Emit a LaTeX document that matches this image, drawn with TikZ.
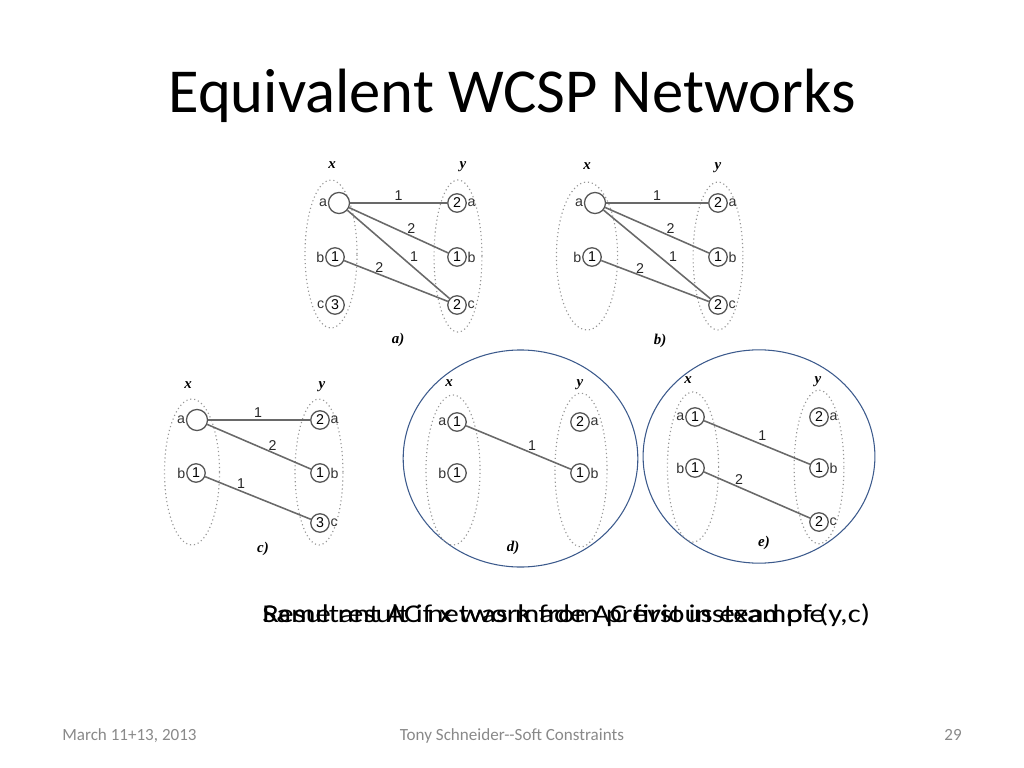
\documentclass[tikz,border=0pt]{standalone}
\usepackage{fontspec}
\setmainfont{Carlito}
\newfontfamily\hv{Liberation Sans}
\newfontfamily\tms{Liberation Serif}
\newfontface\capfont[FakeStretch=1.2]{Carlito}
\usetikzlibrary{shapes.geometric}
\definecolor{cgray}{RGB}{85,85,85}
\definecolor{egray}{RGB}{105,105,105}
\definecolor{dgray}{RGB}{150,150,150}
\definecolor{fgray}{RGB}{137,137,137}
\definecolor{navy}{RGB}{60,90,140}
\tikzset{
  val/.style={circle, draw=cgray, line width=0.9pt, minimum size=13pt, inner sep=0pt,
    font=\hv\fontsize{10}{10}\selectfont, label distance=0.2pt},
  bigval/.style={val, minimum size=14.8pt},
  every label/.style={font=\hv\fontsize{10}{10}\selectfont, inner sep=0.4pt, text=black!80},
  dom/.style={ellipse, draw=dgray, dotted, line width=0.8pt, inner sep=0pt},
  con/.style={draw=egray, line width=1.1pt},
  wt/.style={font=\hv\fontsize{10}{10}\selectfont, inner sep=1pt, anchor=south, text=black!85},
  var/.style={font=\tms\bfseries\itshape\fontsize{10.5}{10.5}\selectfont, inner sep=0pt, anchor=base},
  figcap/.style={font=\tms\bfseries\itshape\fontsize{10.5}{10.5}\selectfont, inner sep=0pt},
  blue ring/.style={ellipse, draw=navy, line width=0.75pt, inner sep=0pt},
  captext/.style={anchor=base west, inner sep=0pt, font=\capfont\fontsize{18}{20}\selectfont}
}
\begin{document}
\begin{tikzpicture}[x=0.703125pt, y=-0.703125pt]
\useasboundingbox (0,0) rectangle (1024,768);

% title
\node[anchor=base, inner sep=0pt, font=\fontsize{44}{50}\selectfont] (title) at (512,113) {Equivalent WCSP Networks};

% ---------- panel a ----------
\node[dom, minimum width=36.6pt, minimum height=104pt] (aX) at (331,254) {};
\node[dom, minimum width=33.7pt, minimum height=107pt] (aY) at (458,256) {};
\node[var] (ax) at (332,169) {x};
\node[var] (ay) at (463,169) {y};
\node[bigval, label=left:a] (axa) at (339,203) {};
\node[val, label=left:b] (axb) at (335,257) {1};
\node[val, label=left:c] (axc) at (335,305) {3};
\node[val, label=right:a] (aya) at (457,203) {2};
\node[val, label=right:b] (ayb) at (457,257) {1};
\node[val, label=right:c] (ayc) at (457,305) {2};
\draw[con] (axa) -- node[wt, pos=0.5] {1} (aya);
\draw[con] (axa) -- node[wt, pos=0.63] {2} (ayb);
\draw[con] (axa) -- node[wt, pos=0.6, anchor=south west, inner sep=0.5pt] {1} (ayc);
\draw[con] (axb) -- node[wt, pos=0.34] {2} (ayc);
\node[figcap] (acap) at (398,340) {a)};

% ---------- panel b ----------
\node[dom, minimum width=43pt, minimum height=104pt] (bX) at (587,256) {};
\node[dom, minimum width=35pt, minimum height=104pt] (bY) at (718,256) {};
\node[var] (bx) at (587,170) {x};
\node[var] (by) at (718,170) {y};
\node[bigval, label=left:a] (bxa) at (595,203) {};
\node[val, label=left:b] (bxb) at (592,257) {1};
\node[val, label=right:a] (bya) at (718,203) {2};
\node[val, label=right:b] (byb) at (718,257) {1};
\node[val, label=right:c] (byc) at (718,305) {2};
\draw[con] (bxa) -- node[wt, pos=0.5] {1} (bya);
\draw[con] (bxa) -- node[wt, pos=0.63] {2} (byb);
\draw[con] (bxa) -- node[wt, pos=0.6, anchor=south west, inner sep=0.5pt] {1} (byc);
\draw[con] (bxb) -- node[wt, pos=0.36] {2} (byc);
\node[figcap] (bcap) at (660,341) {b)};

% ---------- panel c ----------
\node[dom, minimum width=38.7pt, minimum height=102.6pt] (cX) at (192,472) {};
\node[dom, minimum width=33.7pt, minimum height=102.6pt] (cY) at (319,472) {};
\node[var] (cx) at (188,388) {x};
\node[var] (cy) at (322,388) {y};
\node[bigval, label=left:a] (cxa) at (197,420) {};
\node[val, label=left:b] (cxb) at (196,473) {1};
\node[val, label=right:a] (cya) at (320,420) {2};
\node[val, label=right:b] (cyb) at (320,473) {1};
\node[val, label=right:c] (cyc) at (320,523) {3};
\draw[con] (cxa) -- node[wt, pos=0.49] {1} (cya);
\draw[con] (cxa) -- node[wt, pos=0.63] {2} (cyb);
\draw[con] (cxb) -- node[wt, pos=0.34] {1} (cyc);
\node[figcap] (ccap) at (263,549) {c)};

% ---------- panel d ----------
\node[blue ring, minimum width=165pt, minimum height=152.6pt] (dring) at (520.5,458.5) {};
\node[dom, minimum width=38pt, minimum height=105.5pt] (dX) at (453,470) {};
\node[dom, minimum width=36.6pt, minimum height=108pt] (dY) at (581,470) {};
\node[var] (dx) at (449,386) {x};
\node[var] (dy) at (580,386) {y};
\node[val, label=left:a] (dxa) at (457,422) {1};
\node[val, label=left:b] (dxb) at (457,473) {1};
\node[val, label=right:a] (dya) at (580,422) {2};
\node[val, label=right:b] (dyb) at (580,473) {1};
\draw[con] (dxa) -- node[wt, pos=0.63] {1} (dyb);
\node[figcap] (dcap) at (513,548) {d)};

% ---------- panel e ----------
\node[blue ring, minimum width=163pt, minimum height=150pt] (ering) at (759,456.5) {};
\node[dom, minimum width=36pt, minimum height=105.5pt] (eX) at (693,467) {};
\node[dom, minimum width=35pt, minimum height=108pt] (eY) at (819,467) {};
\node[var] (ex) at (688,383) {x};
\node[var] (ey) at (818,383) {y};
\node[val, label=left:a] (exa) at (695,417) {1};
\node[val, label=left:b] (exb) at (695,468) {1};
\node[val, label=right:a] (eya) at (819,417) {2};
\node[val, label=right:b] (eyb) at (819,468) {1};
\node[val, label=right:c] (eyc) at (819,522) {2};
\draw[con] (exa) -- node[wt, pos=0.55, inner sep=2.5pt] {1} (eyb);
\draw[con] (exb) -- node[wt, pos=0.33] {2} (eyc);
\node[figcap] (ecap) at (764,543) {e)};

% ---------- overlapping captions ----------
\node[captext] (capA) at (262,622) {Resultant AC network from previous example};
\node[captext] (capB) at (262,622) {Same result if x was made AC first instead of (y,c)};

% ---------- footer ----------
\node[anchor=base west, inner sep=0pt, text=fgray, font=\fontsize{12}{14}\selectfont] (fdate) at (62,740) {March 11+13, 2013};
\node[anchor=base, inner sep=0pt, text=fgray, font=\fontsize{12}{14}\selectfont] (fauth) at (512,740) {Tony Schneider{-}{-}Soft Constraints};
\node[anchor=base east, inner sep=0pt, text=fgray, font=\fontsize{12}{14}\selectfont] (fnum) at (962,740) {29};
\end{tikzpicture}
\end{document}
